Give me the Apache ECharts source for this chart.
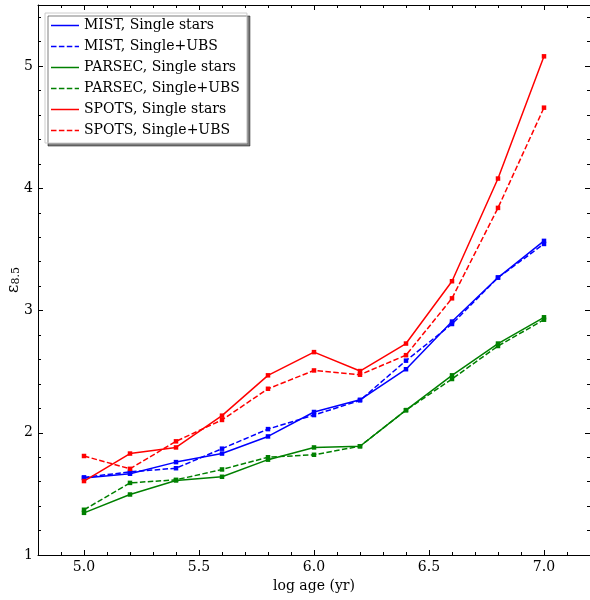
<!DOCTYPE html>
<html>
<head>
<meta charset="utf-8">
<script src="https://cdn.jsdelivr.net/npm/echarts@6/dist/echarts.min.js"></script>
<style>
  html, body { margin: 0; padding: 0; background: #fff; }
  #chart { width: 590px; height: 600px; }
</style>
</head>
<body>
<div id="chart"></div>
<script>
// log age grid of the models
const logAge = [5.0, 5.2, 5.4, 5.6, 5.8, 6.0, 6.2, 6.4, 6.6, 6.8, 7.0];

// epsilon_8.5 per model set
const mistSingle   = [1.63, 1.665, 1.76, 1.83, 1.97, 2.17, 2.27, 2.52, 2.91, 3.27, 3.57];
const mistUBS      = [1.635, 1.68, 1.71, 1.87, 2.03, 2.145, 2.265, 2.59, 2.89, 3.27, 3.545];
const parsecSingle = [1.345, 1.495, 1.61, 1.64, 1.78, 1.88, 1.89, 2.185, 2.47, 2.73, 2.945];
const parsecUBS    = [1.37, 1.59, 1.615, 1.70, 1.80, 1.82, 1.89, 2.185, 2.44, 2.71, 2.925];
const spotsSingle  = [1.605, 1.83, 1.88, 2.14, 2.47, 2.66, 2.505, 2.73, 3.24, 4.08, 5.08];
const spotsUBS     = [1.81, 1.705, 1.93, 2.105, 2.36, 2.51, 2.475, 2.635, 3.10, 3.84, 4.66];

const seriesNames = [
  'MIST, Single stars', 'MIST, Single+UBS',
  'PARSEC, Single stars', 'PARSEC, Single+UBS',
  'SPOTS, Single stars', 'SPOTS, Single+UBS'
];

// tick positions
const xMajor = [5.0, 5.5, 6.0, 6.5, 7.0];
const yMajor = [1, 2, 3, 4, 5];
const xMinor = [];
for (let i = 48; i <= 72; i++) xMinor.push(i / 10);
const yMinor = [];
for (let i = 5; i <= 27; i++) yMinor.push(i / 5);

const X_MIN = 4.8, X_MAX = 7.2, Y_MIN = 1, Y_MAX = 5.5;
const FONT = 'DejaVu Serif';
const FS = 14;

function axisBase(extra) {
  return Object.assign({
    type: 'value',
    splitLine: { show: false },
    axisLine: { show: false, onZero: false },
    axisLabel: { show: false },
    axisPointer: { show: false }
  }, extra);
}
function tickStyle(values, length) {
  return { show: true, inside: true, length: length, customValues: values,
           lineStyle: { color: '#000', width: 1 } };
}

const xAxes = [
  axisBase({
    position: 'bottom', min: X_MIN, max: X_MAX,
    axisLine: { show: true, onZero: false, lineStyle: { color: '#000', width: 1 } },
    axisTick: tickStyle(xMajor, 5),
    axisLabel: { show: true, customValues: xMajor, formatter: v => v.toFixed(1),
                 color: '#000', fontFamily: FONT, fontSize: FS, margin: 5 },
    name: 'log age (yr)', nameLocation: 'middle', nameGap: 17,
    nameTextStyle: { color: '#000', fontFamily: FONT, fontSize: FS }
  }),
  axisBase({ position: 'bottom', min: X_MIN, max: X_MAX, axisTick: tickStyle(xMinor, 3) }),
  axisBase({
    position: 'top', min: X_MIN, max: X_MAX,
    axisLine: { show: true, onZero: false, lineStyle: { color: '#000', width: 1 } },
    axisTick: tickStyle(xMajor, 5)
  }),
  axisBase({ position: 'top', min: X_MIN, max: X_MAX, axisTick: tickStyle(xMinor, 3) })
];

const yAxes = [
  axisBase({
    position: 'left', min: Y_MIN, max: Y_MAX,
    axisLine: { show: true, onZero: false, lineStyle: { color: '#000', width: 1 } },
    axisTick: tickStyle(yMajor, 5),
    axisLabel: { show: true, customValues: yMajor, formatter: v => String(v),
                 color: '#000', fontFamily: FONT, fontSize: FS, margin: 5 },
    name: '{e|ε}{s|8.5}', nameLocation: 'middle', nameGap: 16, nameRotate: 90,
    nameMoveOverlap: false,
    nameTextStyle: {
      color: '#000', fontFamily: FONT,
      rich: {
        e: { fontFamily: FONT, fontSize: 16, color: '#000', lineHeight: 20, verticalAlign: 'bottom' },
        s: { fontFamily: FONT, fontSize: 11, color: '#000', lineHeight: 20, verticalAlign: 'bottom', padding: [7, 0, 0, 0] }
      }
    }
  }),
  axisBase({ position: 'left', min: Y_MIN, max: Y_MAX, axisTick: tickStyle(yMinor, 3) }),
  axisBase({
    position: 'right', min: Y_MIN, max: Y_MAX,
    axisLine: { show: true, onZero: false, lineStyle: { color: '#000', width: 1 } },
    axisTick: tickStyle(yMajor, 5)
  }),
  axisBase({ position: 'right', min: Y_MIN, max: Y_MAX, axisTick: tickStyle(yMinor, 3) })
];

const DASH = [5.5, 2.4];
function makeSeries(name, values, color, dashed) {
  return {
    name: name,
    type: 'line',
    xAxisIndex: 0,
    yAxisIndex: 0,
    data: logAge.map((x, i) => [x, values[i]]),
    symbol: 'rect',
    symbolSize: 4.5,
    showSymbol: true,
    color: color,
    itemStyle: { color: color },
    lineStyle: { color: color, width: 1.5, type: dashed ? DASH : 'solid' },
    emphasis: { disabled: true },
    animation: false
  };
}

const SOLID_ICON = 'path://M0,0h28v1.5h-28z';
const DASH_ICON = 'path://M0,0h5.5v1.5h-5.5zM7.9,0h5.5v1.5h-5.5zM15.8,0h5.5v1.5h-5.5zM23.7,0h4.3v1.5h-4.3z';

const chart = echarts.init(document.getElementById('chart'), null, { renderer: 'canvas' });
chart.setOption({
  backgroundColor: '#fff',
  animation: false,
  grid: { left: 38, right: 0, top: 5, bottom: 45, containLabel: false, outerBoundsMode: 'none' },
  xAxis: xAxes,
  yAxis: yAxes,
  legend: {
    orient: 'vertical',
    left: 45,
    top: 13,
    padding: [2, 7, 2, 6],
    itemGap: 0,
    itemWidth: 28,
    itemHeight: 1.5,
    backgroundColor: '#fff',
    borderColor: '#cccccc',
    borderWidth: 1,
    borderRadius: 0,
    shadowColor: 'rgba(0,0,0,0.5)',
    shadowBlur: 0,
    shadowOffsetX: 3,
    shadowOffsetY: 3,
    selectedMode: false,
    textStyle: { color: '#000', fontFamily: FONT, fontSize: FS, lineHeight: 21 },
    data: seriesNames.map((n, i) => ({ name: n, icon: i % 2 === 0 ? SOLID_ICON : DASH_ICON }))
  },
  series: [
    makeSeries(seriesNames[0], mistSingle, '#0000ff', false),
    makeSeries(seriesNames[1], mistUBS, '#0000ff', true),
    makeSeries(seriesNames[2], parsecSingle, '#008000', false),
    makeSeries(seriesNames[3], parsecUBS, '#008000', true),
    makeSeries(seriesNames[4], spotsSingle, '#ff0000', false),
    makeSeries(seriesNames[5], spotsUBS, '#ff0000', true)
  ]
});
</script>
</body>
</html>
